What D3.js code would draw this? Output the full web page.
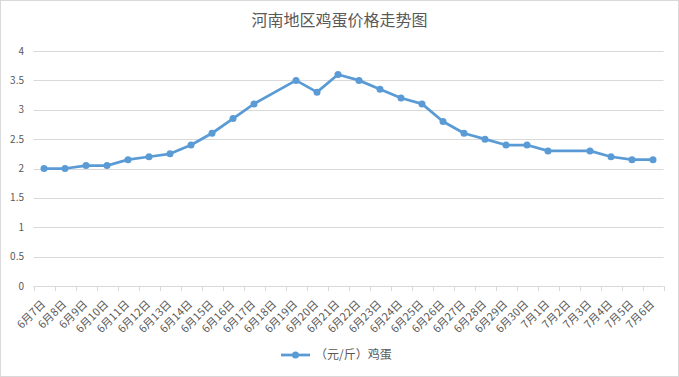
<!DOCTYPE html>
<html><head><meta charset="utf-8">
<script src="https://cdn.jsdelivr.net/npm/d3@7"></script>
<style>
body{margin:0;background:#fff;}
svg{display:block;font-family:"Noto Sans CJK SC","Noto Sans",sans-serif;}
</style></head>
<body>
<svg id="c" width="679" height="377"></svg>
<script>
const title = "河南地区鸡蛋价格走势图";
const seriesName = "（元/斤）鸡蛋";
const categories = ["6月7日","6月8日","6月9日","6月10日","6月11日","6月12日","6月13日","6月14日","6月15日","6月16日","6月17日","6月18日","6月19日","6月20日","6月21日","6月22日","6月23日","6月24日","6月25日","6月26日","6月27日","6月28日","6月29日","6月30日","7月1日","7月2日","7月3日","7月4日","7月5日","7月6日"];
const values = [2.0,2.0,2.05,2.05,2.15,2.2,2.25,2.4,2.6,2.85,3.1,null,3.5,3.3,3.6,3.5,3.35,3.2,3.1,2.8,2.6,2.5,2.4,2.4,2.3,null,2.3,2.2,2.15,2.15];
const yTicks = [0,0.5,1,1.5,2,2.5,3,3.5,4];

(function(){
const svg = d3.select("#c");
const W = 679, H = 377;
const color = "#5b9bd5", grid = "#d9d9d9", text = "#595959";

svg.append("rect").attr("x",0.5).attr("y",0.5).attr("width",W-1).attr("height",H-1)
  .attr("fill","#fff").attr("stroke","#d9d9d9");

const pl = 33.5, pr = 663.5, pt = 51, pb = 286;
const x = d3.scaleBand().domain(categories).range([pl,pr]);
const y = d3.scaleLinear().domain([0,4]).range([pb,pt]);

svg.append("text").attr("x",W/2).attr("y",26).attr("text-anchor","middle")
  .attr("font-size",16).attr("fill",text).text(title);

svg.append("g").selectAll("line").data(yTicks.filter(d=>d>0)).join("line")
  .attr("x1",pl).attr("x2",pr).attr("y1",d=>Math.round(y(d))+0.5).attr("y2",d=>Math.round(y(d))+0.5)
  .attr("stroke",grid).attr("stroke-width",1);

svg.append("g").selectAll("text").data(yTicks).join("text")
  .attr("x",24).attr("y",d=>y(d)+3.5).attr("text-anchor","end")
  .attr("font-size",10).attr("fill",text).text(d=>d);

svg.append("line").attr("x1",pl).attr("x2",pr).attr("y1",pb+0.5).attr("y2",pb+0.5).attr("stroke",grid);
const tickPos = categories.map(c=>x(c)).concat([pr]);
svg.append("g").selectAll("line").data(tickPos).join("line")
  .attr("x1",d=>Math.round(d)+0.5).attr("x2",d=>Math.round(d)+0.5).attr("y1",pb).attr("y2",pb+5)
  .attr("stroke",grid);

svg.append("g").selectAll("text").data(categories).join("text")
  .attr("transform",d=>`translate(${x(d)+x.bandwidth()/2+2},${pb+19}) rotate(-45)`)
  .attr("text-anchor","end").attr("font-size",11).attr("fill",text).text(d=>d);

const pts = categories.map((c,i)=>({c,v:values[i]})).filter(d=>d.v!==null);
const line = d3.line().x(d=>x(d.c)+x.bandwidth()/2).y(d=>y(d.v));
svg.append("path").datum(pts).attr("d",line).attr("fill","none")
  .attr("stroke",color).attr("stroke-width",2.75).attr("stroke-linejoin","round");
svg.append("g").selectAll("circle").data(pts).join("circle")
  .attr("cx",d=>x(d.c)+x.bandwidth()/2).attr("cy",d=>y(d.v)).attr("r",3.5).attr("fill",color);

const ly = 355;
svg.append("line").attr("x1",281).attr("x2",310).attr("y1",ly).attr("y2",ly).attr("stroke",color).attr("stroke-width",2.75);
svg.append("circle").attr("cx",295.5).attr("cy",ly).attr("r",3.5).attr("fill",color);
svg.append("text").attr("x",315).attr("y",ly+4).attr("font-size",12).attr("fill",text).text(seriesName);
})();
</script>
</body></html>
